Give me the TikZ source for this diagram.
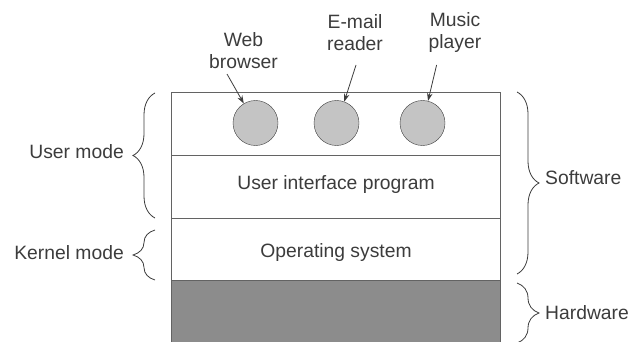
\documentclass[tikz,border=0pt]{standalone}
\usepackage{fontspec}
\setmainfont{Liberation Sans}
\usetikzlibrary{arrows.meta,decorations.pathreplacing}
\definecolor{ink}{HTML}{3C3C3C}
\definecolor{appgray}{HTML}{C4C4C4}
\definecolor{hwgray}{HTML}{8C8C8C}
\tikzset{
	lbl/.style={text=ink,font=\fontsize{19.3}{22}\selectfont,align=center,inner sep=0pt},
	app/.style={circle,draw=ink,fill=appgray,minimum size=45pt,inner sep=0pt},
	layer/.style={draw=ink!80,line width=0.9pt},
	ptr/.style={draw=ink,line width=0.8pt,-{Stealth[length=8pt,width=5.5pt]}},
	brc/.style={draw=ink,line width=0.8pt,decorate,decoration={brace,amplitude=22pt,aspect=0.5}}
}
\begin{document}
\begin{tikzpicture}[x=1pt,y=-1pt]
	\useasboundingbox (0,0) rectangle (631,342);
	\clip (0,0) rectangle (631,342);
	% hardware
	\fill[hwgray] (171,280) rectangle (500,350);
	\draw[layer] (171,350) -- (171,280) -- (500,280) -- (500,350);
	% software layers
	\draw[layer] (171,92) rectangle (500,280);
	\draw[layer] (171,155) -- (500,155);
	\draw[layer] (171,218) -- (500,218);
	\node[lbl] (ui) at (336,185) {User interface program};
	\node[lbl] (os) at (336,253) {Operating system};
	% programs
	\node[app] (webc) at (255.5,123) {};
	\node[app] (mailc) at (336.5,123) {};
	\node[app] (musicc) at (422.5,123) {};
	\node[lbl] (web) at (243.5,51) {Web\\browser};
	\node[lbl] (mail) at (355,33) {E-mail\\reader};
	\node[lbl] (music) at (455,33) {Music\\player};
	\draw[ptr] ([shift={(-16.5,23)}]web.center) -- (webc.121);
	\draw[ptr] ([shift={(1,32)}]mail.center) -- (mailc.70);
	\draw[ptr] ([shift={(-18.4,32)}]music.center) -- (musicc.76);
	% modes
	\draw[brc] (155,218) -- (155,93);
	\draw[brc] (155,280) -- (155,230);
	\node[lbl,anchor=east] (user) at (124,152) {User mode};
	\node[lbl,anchor=east] (kernel) at (124,253) {Kernel mode};
	\draw[brc] (517,92) -- (517,274);
	\draw[brc] (517,283) -- (517,343);
	\node[lbl,anchor=west] (sw) at (545,178) {Software};
	\node[lbl,anchor=west] (hw) at (545,313) {Hardware};
\end{tikzpicture}
\end{document}
